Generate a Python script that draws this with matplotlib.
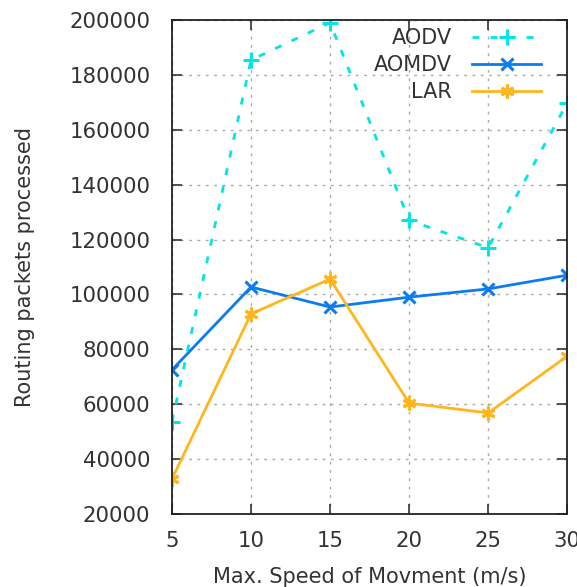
import matplotlib
matplotlib.use('Agg')
import matplotlib.pyplot as plt

# Data
speeds = [5, 10, 15, 20, 25, 30]
aodv = [53500, 185400, 199000, 127000, 117000, 169700]
aomdv = [72500, 102700, 95400, 99000, 102000, 107000]
lar = [32700, 92900, 105600, 60400, 56800, 77500]

y_ticks = [20000, 40000, 60000, 80000, 100000, 120000, 140000, 160000, 180000, 200000]
x_ticks = [5, 10, 15, 20, 25, 30]

plt.rcParams['font.family'] = ['DejaVu Sans']

fig = plt.figure(figsize=(5.77, 5.87), dpi=100)
ax = fig.add_axes([0.298, 0.1244, 0.685, 0.8416])

ax.plot(speeds, aodv, color='#00e5e5', linewidth=2, linestyle=(0, (2.5, 4)),
        marker='+', markersize=11, markeredgewidth=2.2, label='AODV')
ax.plot(speeds, aomdv, color='#0a7cf0', linewidth=2, linestyle='-',
        marker='x', markersize=9, markeredgewidth=2.2, label='AOMDV')
ax.plot(speeds, lar, color='#ffb61e', linewidth=2, linestyle='-',
        marker=(6, 2, 0), markersize=10, markeredgewidth=2.2, label='LAR')

ax.set_xlim(5, 30)
ax.set_ylim(20000, 200000)
ax.set_xticks(x_ticks)
ax.set_yticks(y_ticks)
ax.tick_params(direction='in', length=7, width=1.2, top=True, right=True,
               labelsize=15.3, colors='#333333')
ax.tick_params(axis='y', pad=15.5)
ax.tick_params(axis='x', pad=12)
for s in ax.spines.values():
    s.set_linewidth(1.3)
    s.set_color('#222222')
ax.grid(True, linestyle=(0, (2, 4)), color='#aaaaaa', linewidth=1)

ax.set_xlabel('Max. Speed of Movment (m/s)', fontsize=15, color='#333333', labelpad=12)
ax.set_ylabel('Routing packets processed', fontsize=15, color='#333333', labelpad=25)

leg = ax.legend(loc='upper right', frameon=False, fontsize=15, markerfirst=False,
                handlelength=3.3, handletextpad=1.0, labelspacing=0.33,
                borderaxespad=0.0, bbox_to_anchor=(0.955, 1.0))
for t in leg.get_texts():
    t.set_ha('right')
    t.set_color('#333333')

fig.savefig('out.png', dpi=100)
